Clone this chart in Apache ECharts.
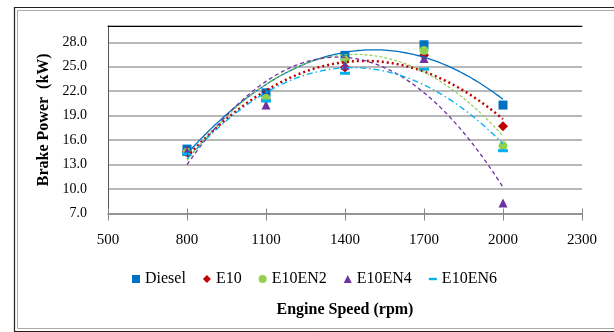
<!DOCTYPE html>
<html>
<head>
<meta charset="utf-8">
<script src="https://cdn.jsdelivr.net/npm/echarts@6/dist/echarts.min.js"></script>
<style>html,body{margin:0;padding:0;background:#fff;}#c{width:614px;height:332px;}</style>
</head>
<body>
<div id="c"></div>
<script>
// ---- data ----
const xTicks = [500, 800, 1100, 1400, 1700, 2000, 2300];
const yTicks = [7.0, 10.0, 13.0, 16.0, 19.0, 22.0, 25.0, 28.0];
const yTop = 30;
const speeds = [800, 1100, 1400, 1700, 2000];
const seriesNames = ['Diesel', 'E10', 'E10EN2', 'E10EN4', 'E10EN6'];
const diesel = [14.9, 21.8, 26.4, 27.7, 20.3];
const e10 = [14.6, 21.0, 24.9, 26.4, 17.7];
const e10en2 = [14.5, 21.1, 25.8, 27.0, 15.3];
const e10en4 = [14.6, 20.3, 25.2, 26.0, 8.3];
const e10en6 = [14.3, 20.8, 24.2, 24.7, 14.7];
const xTitle = 'Engine Speed (rpm)';
const yTitle = 'Brake Power  (kW)';

// ---- helpers ----
const xOff = xTicks[0], xStep = xTicks[1] - xTicks[0], xSpan = xTicks[xTicks.length - 1] - xOff;
const yOff = yTicks[0], yStep = yTicks[1] - yTicks[0], ySpan = yTop - yOff;

// order-2 polynomial least-squares trendline (as in the source spreadsheet)
function fitQuad(xs, ys) {
  let S = [0, 0, 0, 0, 0], T = [0, 0, 0];
  for (let i = 0; i < xs.length; i++) {
    const x = xs[i], y = ys[i];
    for (let k = 0; k < 5; k++) S[k] += Math.pow(x, k);
    for (let k = 0; k < 3; k++) T[k] += Math.pow(x, k) * y;
  }
  const M = [[S[0], S[1], S[2], T[0]], [S[1], S[2], S[3], T[1]], [S[2], S[3], S[4], T[2]]];
  for (let i = 0; i < 3; i++) {
    for (let j = i + 1; j < 3; j++) {
      const f = M[j][i] / M[i][i];
      for (let k = i; k < 4; k++) M[j][k] -= f * M[i][k];
    }
  }
  const c = [0, 0, 0];
  for (let i = 2; i >= 0; i--) {
    let s = M[i][3];
    for (let k = i + 1; k < 3; k++) s -= M[i][k] * c[k];
    c[i] = s / M[i][i];
  }
  return c;
}
function trend(ys) {
  const xs = speeds.map(v => (v - 1400) / 300);
  const c = fitQuad(xs, ys);
  const out = [];
  const a = speeds[0], b = speeds[speeds.length - 1];
  for (let x = a; x <= b + 0.001; x += 10) {
    const t = (x - 1400) / 300;
    out.push([x - xOff, c[0] + c[1] * t + c[2] * t * t - yOff]);
  }
  return out;
}

const allData = [diesel, e10, e10en2, e10en4, e10en6];
const colors = ['#0070C0', '#C00000', '#92D050', '#7030A0', '#00B0F0'];
const symbols = ['rect', 'diamond', 'circle', 'triangle', 'rect'];
const symSizes = [9, 10, 9, 9, [10, 3]];
const legendIcons = ['rect', 'diamond', 'circle', 'triangle', 'path://M0,0h10v3h-10z'];
const lineStyles = [
  { width: 1.3, type: 'solid' },
  { width: 2.5, type: [2, 3], cap: 'butt' },
  { width: 1.2, type: [3, 2] },
  { width: 1.3, type: [4, 3] },
  { width: 1.3, type: [6, 3, 1.5, 3] }
];

const series = [];
allData.forEach((d, i) => {
  series.push({
    name: seriesNames[i] + ' trend',
    type: 'line',
    data: trend(d),
    showSymbol: false,
    silent: true,
    z: 3,
    lineStyle: Object.assign({ color: colors[i] }, lineStyles[i])
  });
});
allData.forEach((d, i) => {
  series.push({
    name: seriesNames[i],
    type: 'scatter',
    symbol: symbols[i],
    symbolSize: symSizes[i],
    itemStyle: { color: colors[i], opacity: 1 },
    z: 2,
    data: speeds.map((s, k) => [s - xOff, d[k] - yOff])
  });
});

const font = 'Liberation Serif';
const chart = echarts.init(document.getElementById('c'), null, { renderer: 'canvas' });
chart.setOption({
  animation: false,
  backgroundColor: '#fff',
  textStyle: { fontFamily: font, color: '#000' },
  grid: { left: 108, top: 26, width: 474, height: 187.5, show: false },
  graphic: [
    { type: 'rect', shape: { x: 14.5, y: 7.5, width: 700, height: 324 }, style: { fill: null, stroke: '#222', lineWidth: 1.2 }, silent: true, z: -10 },
    { type: 'rect', shape: { x: 17.5, y: 10.5, width: 700, height: 318 }, style: { fill: null, stroke: '#aaa', lineWidth: 1 }, silent: true, z: -10 }
  ],
  legend: {
    left: 127, top: 266,
    itemWidth: 8, itemHeight: 8, itemGap: 17,
    textStyle: { fontFamily: font, fontSize: 16, color: '#000' },
    data: seriesNames.map((n, i) => ({ name: n, icon: legendIcons[i] }))
  },
  xAxis: [
    {
      type: 'value', position: 'bottom', min: 0, max: xSpan, interval: xStep,
      name: xTitle, nameLocation: 'middle', nameGap: 88,
      nameTextStyle: { fontFamily: font, fontSize: 16, fontWeight: 'bold', color: '#000' },
      axisLine: { show: true, lineStyle: { color: '#888', width: 1.5 } },
      axisTick: { show: true, length: 7, lineStyle: { color: '#888', width: 1 } },
      axisLabel: { margin: 19, fontSize: 15, color: '#000', fontFamily: font, formatter: v => String(v + xOff) },
      splitLine: { show: false }
    },
    {
      type: 'value', position: 'bottom', min: 0, max: xSpan, interval: xStep,
      axisLine: { show: false },
      axisTick: { show: true, inside: true, length: 5, lineStyle: { color: '#888', width: 1 } },
      axisLabel: { show: false }, splitLine: { show: false }
    },
    {
      type: 'value', position: 'top', min: 0, max: xSpan, interval: xStep,
      axisLine: { show: true, lineStyle: { color: '#000', width: 1 } },
      axisTick: { show: false }, axisLabel: { show: false }, splitLine: { show: false }
    }
  ],
  yAxis: [
    {
      type: 'value', position: 'left', min: 0, max: ySpan, interval: yStep,
      name: yTitle, nameLocation: 'middle', nameGap: 53, nameRotate: 90,
      nameTextStyle: { fontFamily: font, fontSize: 16, fontWeight: 'bold', color: '#000' },
      axisLine: { show: true, lineStyle: { color: '#000', width: 1 } },
      axisTick: { show: false },
      axisLabel: { margin: 21, fontSize: 14, color: '#000', fontFamily: font, showMaxLabel: false, formatter: v => (v + yOff).toFixed(1) },
      splitLine: { show: true, lineStyle: { color: '#A0A0A0', width: 1.5 } }
    },
    {
      type: 'value', position: 'right', min: 0, max: ySpan, interval: yStep,
      axisLine: { show: true, lineStyle: { color: '#555', width: 1 } },
      axisTick: { show: false }, axisLabel: { show: false }, splitLine: { show: false }
    }
  ],
  series: series
});
</script>
</body>
</html>
